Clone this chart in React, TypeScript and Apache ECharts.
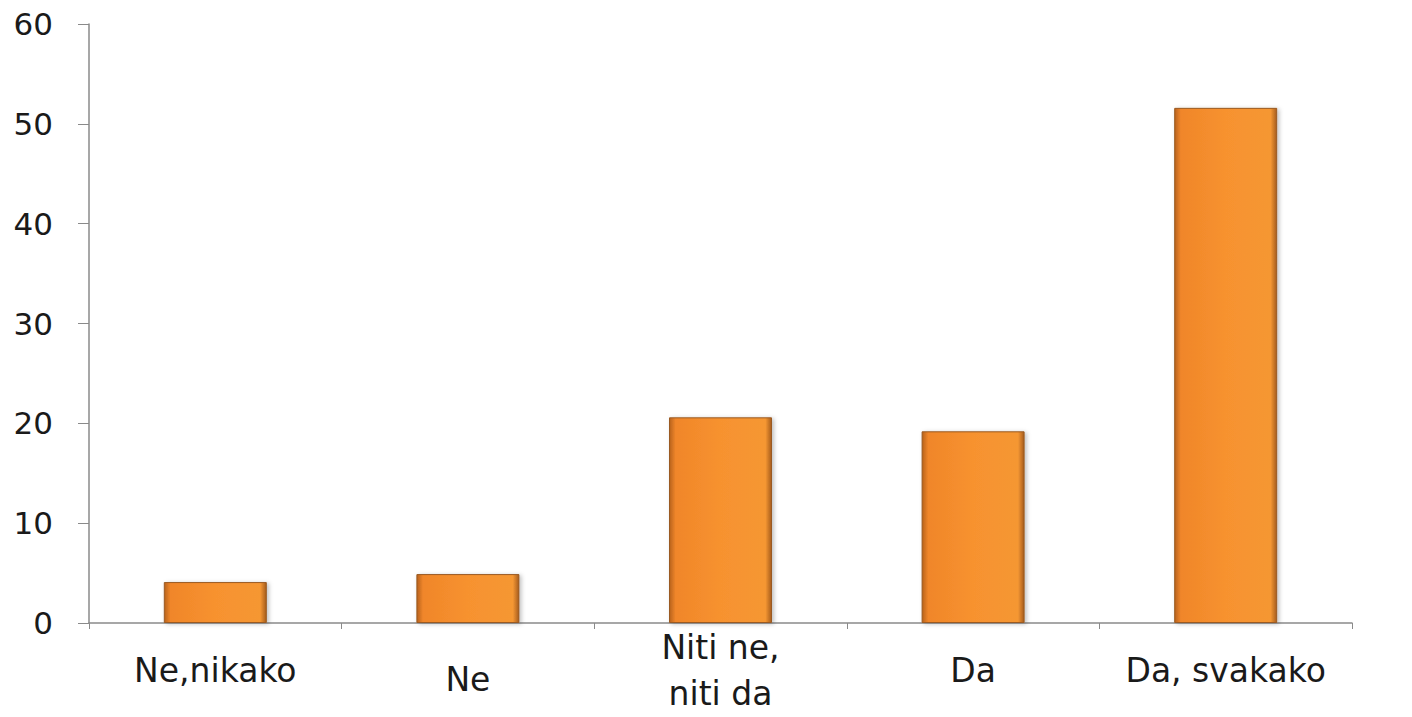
import React, { useEffect, useRef } from "react";
import * as echarts from "echarts";

const categories = ["Ne,nikako", "Ne", "Niti ne,\nniti da", "Da", "Da, svakako"];
const values = [4.1, 4.9, 20.6, 19.2, 51.6];
const yTicks = { min: 0, max: 60, interval: 10 };

export default function App() {
  const ref = useRef<HTMLDivElement>(null);
  useEffect(() => {
    if (!ref.current) return;
    const chart = echarts.init(ref.current, undefined, { renderer: "svg" });
    const barColor = new echarts.graphic.LinearGradient(0, 0, 1, 0, [
      { offset: 0, color: "#b8621c" },
      { offset: 0.06, color: "#f0862a" },
      { offset: 0.5, color: "#f7922f" },
      { offset: 0.94, color: "#f59733" },
      { offset: 1, color: "#a65c1d" },
    ]);
    const labelStyle = {
      color: "#1a1a1a",
      fontFamily: "DejaVu Sans",
      fontSize: 33,
      lineHeight: 46,
      verticalAlign: "middle",
    };
    chart.setOption({
      animation: false,
      backgroundColor: "#ffffff",
      grid: { left: 89, right: 60, top: 24, bottom: 94, outerBoundsMode: "none", containLabel: false },
      xAxis: {
        type: "category",
        data: categories.map((c) =>
          c === "Ne"
            ? { value: c, textStyle: { ...labelStyle, verticalAlign: "top", lineHeight: 18 } }
            : c
        ),
        axisLine: { lineStyle: { color: "#8a8a8a", width: 1.5 } },
        axisTick: { show: true, length: 6, lineStyle: { color: "#8a8a8a" } },
        axisLabel: {
          ...labelStyle,
          margin: 47,
          interval: 0,
        },
      },
      yAxis: {
        type: "value",
        min: yTicks.min,
        max: yTicks.max,
        interval: yTicks.interval,
        splitLine: { show: false },
        axisLine: { show: true, lineStyle: { color: "#8a8a8a", width: 1.5 } },
        axisTick: { show: true, length: 11, lineStyle: { color: "#8a8a8a" } },
        axisLabel: {
          color: "#1a1a1a",
          fontFamily: "DejaVu Sans",
          fontSize: 31,
          margin: 36,
        },
      },
      series: [
        {
          type: "bar",
          data: values,
          barWidth: 103,
          itemStyle: {
            color: barColor,
            borderColor: "#9a5a22",
            borderWidth: 1,
            shadowColor: "rgba(0,0,0,0.25)",
            shadowBlur: 4,
            shadowOffsetX: 2,
            shadowOffsetY: 1,
          },
        },
      ],
    });
    return () => chart.dispose();
  }, []);
  return (
    <div
      ref={ref}
      style={{ position: "absolute", left: 0, top: 0, width: 1412, height: 717 }}
    />
  );
}
